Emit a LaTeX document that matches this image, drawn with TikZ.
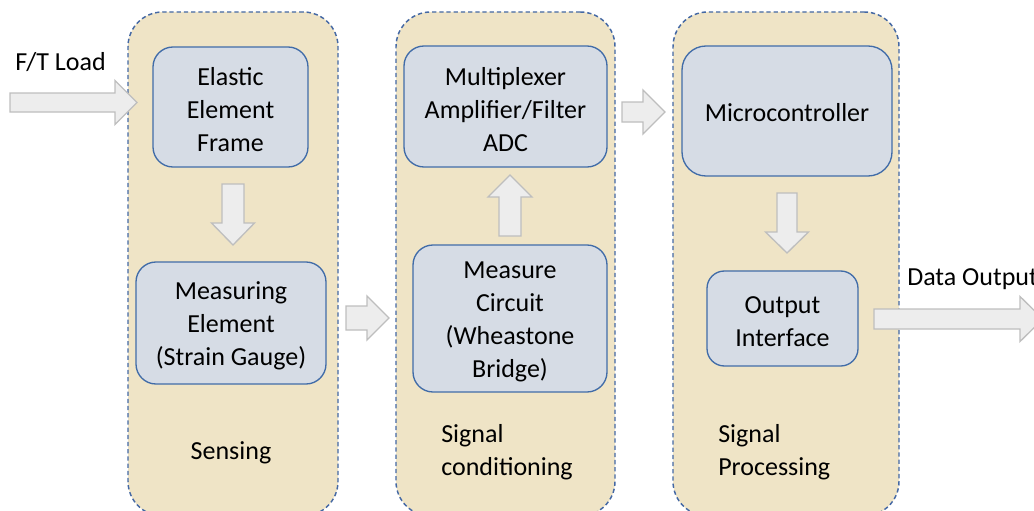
\documentclass[tikz,border=0pt]{standalone}
\usepackage{fontspec}
\setmainfont{Carlito}
\definecolor{panelfill}{RGB}{239,228,198}
\definecolor{paneldraw}{RGB}{68,104,164}
\definecolor{boxfill}{RGB}{214,220,229}
\definecolor{boxdraw}{RGB}{65,108,168}
\definecolor{arrfill}{RGB}{237,237,237}
\definecolor{arrdraw}{RGB}{190,190,190}
\tikzset{
  panel/.style={draw=paneldraw, fill=panelfill, line width=1.1pt, dash pattern=on 3.2pt off 2.2pt, rounded corners=26pt, inner sep=0pt},
  blockbox/.style={draw=boxdraw, fill=boxfill, line width=1pt, rounded corners=15pt, inner sep=0pt},
  lbl/.style={inner sep=0pt, align=center, font=\fontsize{19.5}{24.75}\selectfont},
  blockarrow/.style={draw=arrdraw, fill=arrfill, line width=1pt, line join=miter}
}
% horizontal block arrow: x tail, x head start, x tip, y centre, shaft half, head half
\newcommand{\hblockarrow}[6]{%
  \draw[blockarrow] (#1,#4-#5) -- (#2,#4-#5) -- (#2,#4-#6) -- (#3,#4) -- (#2,#4+#6) -- (#2,#4+#5) -- (#1,#4+#5) -- cycle;}
% vertical block arrow: y tail, y head start, y tip, x centre, shaft half, head half
\newcommand{\vblockarrow}[6]{%
  \draw[blockarrow] (#4-#5,#1) -- (#4-#5,#2) -- (#4-#6,#2) -- (#4,#3) -- (#4+#6,#2) -- (#4+#5,#2) -- (#4+#5,#1) -- cycle;}
\begin{document}
\begin{tikzpicture}[x=0.75pt,y=-0.75pt]
\useasboundingbox (0,0) rectangle (1034,510);
% panels
\node[panel, minimum width=157.5pt, minimum height=378pt] (p1) at (233,264) {};
\node[panel, minimum width=164.25pt, minimum height=378pt] (p2) at (505.5,264) {};
\node[panel, minimum width=169.5pt, minimum height=378pt] (p3) at (786,264) {};
% boxes
\node[blockbox, minimum width=116.25pt, minimum height=90pt] (elastic) at (230.5,107) {};
\node[blockbox, minimum width=142.5pt, minimum height=91.5pt] (measuring) at (231,323) {};
\node[blockbox, minimum width=152.25pt, minimum height=90.75pt] (mux) at (505.5,106.5) {};
\node[blockbox, minimum width=145.5pt, minimum height=110.25pt] (circuit) at (510,318.5) {};
\node[blockbox, minimum width=157.5pt, minimum height=97.5pt, rounded corners=18pt] (micro) at (787,111) {};
\node[blockbox, minimum width=113.25pt, minimum height=71.25pt, rounded corners=13pt] (outif) at (782.5,318.5) {};
% box texts
\node[lbl] (elastic-t) at ([yshift=-2.2pt]elastic.center) {Elastic\\Element\\Frame};
\node[lbl] (measuring-t) at ([yshift=-2.4pt]measuring.center) {Measuring\\Element\\(Strain Gauge)};
\node[lbl] (mux-t) at ([yshift=-2.2pt]mux.center) {Multiplexer\\Amplifier/Filter\\ADC};
\node[lbl] (circuit-t) at ([yshift=-2.2pt]circuit.center) {Measure\\Circuit\\(Wheastone\\Bridge)};
\node[lbl] (micro-t) at ([yshift=-1.5pt]micro.center) {Microcontroller};
\node[lbl] (outif-t) at ([yshift=-2pt]outif.center) {Output\\Interface};
% labels
\node[lbl, anchor=west] (ftload) at (15,62) {F/T Load};
\node[lbl] (sensing) at (231,453) {Sensing};
\node[lbl, anchor=west, align=left] (sigcond) at (441,452.5) {Signal\\conditioning};
\node[lbl, anchor=west, align=left] (sigproc) at (718,452.5) {Signal\\Processing};
\node[lbl, anchor=west] (dataout) at (907,279) {Data Output};
% block arrows
\hblockarrow{10}{115}{137}{102.5}{9.5}{22}
\vblockarrow{184}{223}{245}{233}{11}{21.5}
\hblockarrow{346}{367}{389}{318}{12}{22}
\vblockarrow{236}{197}{175}{510}{11}{22}
\hblockarrow{622}{643}{665}{112}{10}{22}
\vblockarrow{193}{232}{253}{787}{10}{21.5}
\hblockarrow{874}{1020}{1043}{319}{10}{22.5}
\end{tikzpicture}
\end{document}
